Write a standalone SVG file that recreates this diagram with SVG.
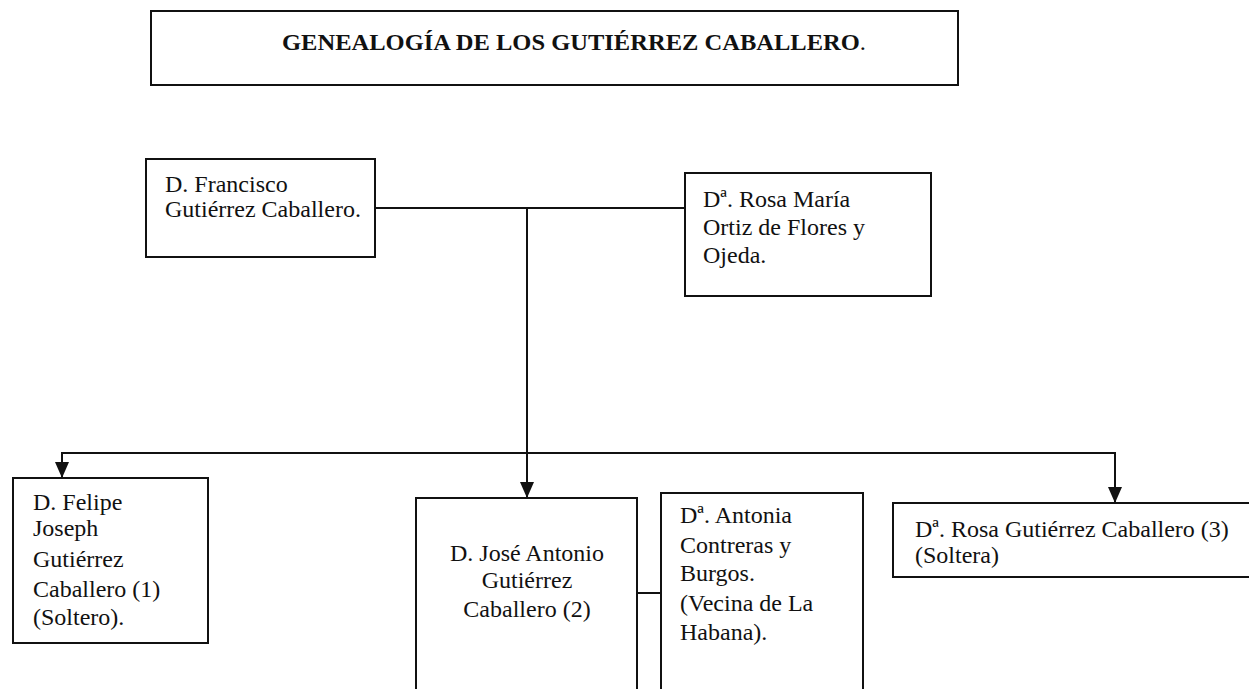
<svg xmlns="http://www.w3.org/2000/svg" width="1249" height="689" viewBox="0 0 1249 689">
<style>
.box{fill:#fff;stroke:#111;stroke-width:2}
.t{font-family:"Liberation Serif","Times New Roman",serif;font-size:24px;fill:#111}
.title{font-family:"Liberation Serif","Times New Roman",serif;font-size:24px;font-weight:bold;fill:#111}
.ln{fill:none;stroke:#111;stroke-width:2}
</style>
<defs>
<marker id="arr" markerWidth="16" markerHeight="14" refX="16" refY="7" orient="auto" markerUnits="userSpaceOnUse" viewBox="0 0 16 14">
<path d="M0,0 L16,7 L0,14 Z" fill="#111"/>
</marker>
</defs>
<rect width="1249" height="689" fill="#fff"/>
<g id="title">
<rect class="box" x="151" y="11" width="807" height="74"/>
<text class="title" x="282" y="50" textLength="584" lengthAdjust="spacingAndGlyphs">GENEALOGÍA DE LOS GUTIÉRREZ CABALLERO<tspan font-weight="normal">.</tspan></text>
</g>
<g id="connectors">
<line class="ln" x1="375" y1="208" x2="685" y2="208"/>
<line class="ln" x1="527" y1="208" x2="527" y2="498" marker-end="url(#arr)"/>
<line class="ln" x1="61" y1="453" x2="1116" y2="453"/>
<line class="ln" x1="62" y1="452" x2="62" y2="478" marker-end="url(#arr)"/>
<line class="ln" x1="1115" y1="452" x2="1115" y2="503" marker-end="url(#arr)"/>
<line class="ln" x1="637" y1="593" x2="661" y2="593"/>
</g>
<g id="francisco">
<rect class="box" x="146" y="159" width="229" height="98"/>
<text class="t" x="165" y="192">D. Francisco</text>
<text class="t" x="165" y="217">Gutiérrez Caballero.</text>
</g>
<g id="rosa-maria">
<rect class="box" x="685" y="173" width="246" height="123"/>
<text class="t" x="703" y="207">Dª. Rosa María</text>
<text class="t" x="703" y="235">Ortiz de Flores y</text>
<text class="t" x="703" y="263">Ojeda.</text>
</g>
<g id="felipe">
<rect class="box" x="13" y="478" width="195" height="165"/>
<text class="t" x="33" y="510">D. Felipe</text>
<text class="t" x="33" y="536">Joseph</text>
<text class="t" x="33" y="567">Gutiérrez</text>
<text class="t" x="33" y="597">Caballero (1)</text>
<text class="t" x="33" y="625">(Soltero).</text>
</g>
<g id="jose">
<rect class="box" x="416" y="498" width="221" height="200"/>
<text class="t" x="527" y="561" text-anchor="middle">D. José Antonio</text>
<text class="t" x="527" y="588" text-anchor="middle">Gutiérrez</text>
<text class="t" x="527" y="617" text-anchor="middle">Caballero (2)</text>
</g>
<g id="antonia">
<rect class="box" x="661" y="493" width="202" height="205"/>
<text class="t" x="680" y="523">Dª. Antonia</text>
<text class="t" x="680" y="553">Contreras y</text>
<text class="t" x="680" y="581">Burgos.</text>
<text class="t" x="680" y="611">(Vecina de La</text>
<text class="t" x="680" y="640">Habana).</text>
</g>
<g id="rosa">
<rect class="box" x="893" y="503" width="370" height="74"/>
<text class="t" x="915" y="537">Dª. Rosa Gutiérrez Caballero (3)</text>
<text class="t" x="915" y="563">(Soltera)</text>
</g>
</svg>
